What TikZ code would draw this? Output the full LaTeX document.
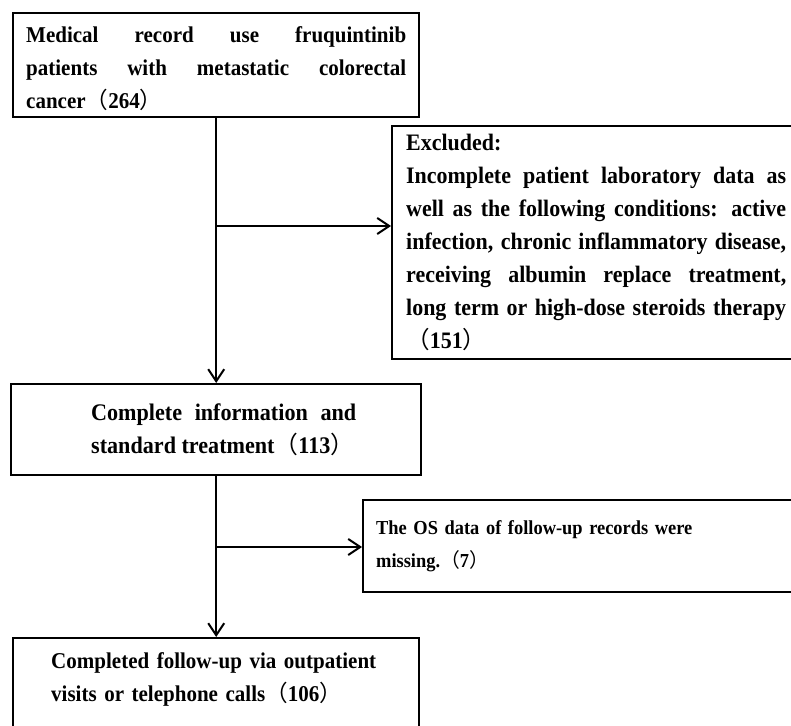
\documentclass[tikz,border=0pt]{standalone}
\usepackage{fontspec}
\usepackage{tikz}
\usetikzlibrary{arrows.meta}
\setmainfont{Liberation Serif}[FakeStretch = 0.93]
\newfontfamily\cjk{Noto Sans CJK SC}
\tolerance=10000
\hbadness=10000
\hyphenpenalty=10000
\newcommand{\cjkParen}[1]{{\cjk\mdseries （}#1{\cjk\mdseries ）}}
\tikzset{
	flowBox/.style = {draw, line width = 1.2pt, anchor = north west, inner xsep = 6.5pt,
		font = \fontsize{#1}{16.5pt}\selectfont\bfseries},
	flowBox/.default = 11.3pt,
	flowArrow/.style = {-{Straight Barb[length = 6pt, width = 8pt]}, line width = 1pt}
}

\begin{document}
\begin{tikzpicture}[x = 0.5pt, y = -0.5pt]%

		\useasboundingbox (0, 0) rectangle (791, 726);
		\clip (0, 0) rectangle (791, 726);

		% main column
		\node[flowBox, text width = 190pt, minimum height = 50pt, align = justify] (record) at (12, 12)
			{\rule{0pt}{11.2pt}Medical record use fruquintinib\linebreak patients with metastatic colorectal\linebreak cancer\cjkParen{264}};
		\node[flowBox = 11.9pt, text width = 140pt, inner xsep = 32.5pt, minimum height = 45.5pt, align = justify] (complete) at (10, 383)
			{\hspace*{7.5pt}Complete information and\linebreak \hspace*{7.5pt}standard treatment\cjkParen{113}};
		\node[flowBox, text width = 165pt, inner xsep = 19pt, inner ysep = 7pt, align = left] (followup) at (12, 637)
			{Completed follow-up via outpatient\\ visits or telephone calls\cjkParen{106}\rule[-32pt]{0pt}{1pt}};

		% exclusions
		\node[flowBox = 11.8pt, text width = 190pt, inner xsep = 7pt, minimum height = 116.5pt, align = justify] (excl) at (391, 125)
			{Excluded:\\ Incomplete patient laboratory data as\linebreak well as the following conditions: active\linebreak infection, chronic inflammatory disease,\linebreak receiving albumin replace treatment,\linebreak long term or high-dose steroids therapy\linebreak \cjkParen{151}};
		\node[flowBox = 9.9pt, text width = 215pt, minimum height = 46pt, align = left] (osmiss) at (362, 499)
			{The OS data of follow-up records were\\ missing.\cjkParen{7}};

		% arrows
		\coordinate (split1) at (record.south |- 0,226);
		\coordinate (split2) at (complete.south |- 0,547);
		\draw[flowArrow] (record.south) -- (complete.north);
		\draw[flowArrow] (split1) -- (split1 -| excl.west);
		\draw[flowArrow] (complete.south) -- (followup.north);
		\draw[flowArrow] (split2) -- (split2 -| osmiss.west);

	\end{tikzpicture}
\end{document}
